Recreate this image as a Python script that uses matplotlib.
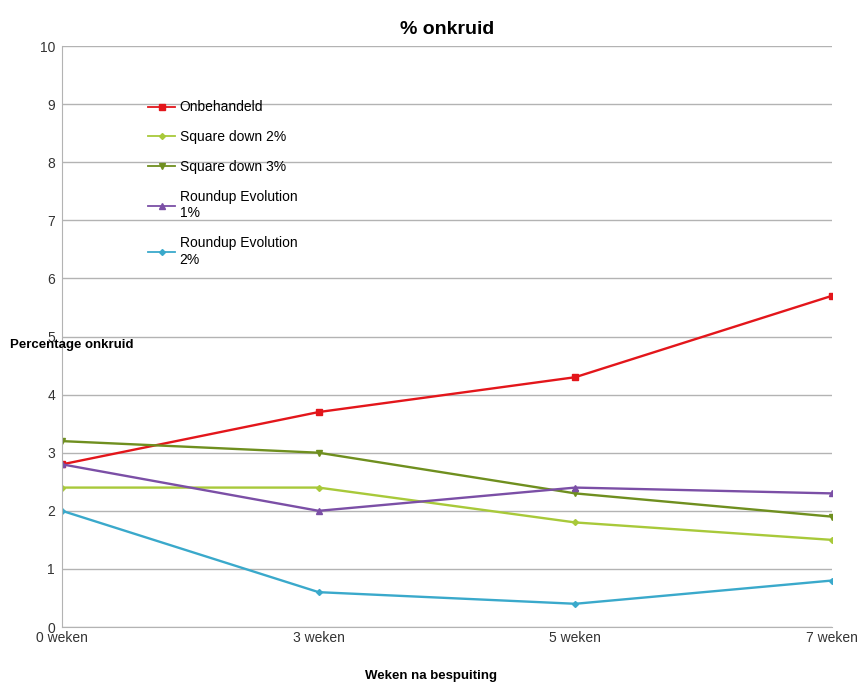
import matplotlib
matplotlib.use("Agg")
import matplotlib.pyplot as plt

plt.rcParams['font.family'] = ['Liberation Sans', 'DejaVu Sans']

categories = ["0 weken", "3 weken", "5 weken", "7 weken"]
series_names = ["Onbehandeld", "Square down 2%", "Square down 3%",
                "Roundup Evolution\n1%", "Roundup Evolution\n2%"]
onbehandeld = [2.8, 3.7, 4.3, 5.7]
square_down_2 = [2.4, 2.4, 1.8, 1.5]
square_down_3 = [3.2, 3.0, 2.3, 1.9]
roundup_1 = [2.8, 2.0, 2.4, 2.3]
roundup_2 = [2.0, 0.6, 0.4, 0.8]
y_ticks = list(range(0, 11))

colors = ["#e3161b", "#a8c93a", "#6f8f1f", "#7b4fa6", "#3aa9cb"]
markers = ["s", "D", "v", "^", "D"]
msizes = [5, 3, 4, 4, 3]
data = [onbehandeld, square_down_2, square_down_3, roundup_1, roundup_2]

fig = plt.figure(figsize=(8.62, 6.84), dpi=100)
ax = fig.add_axes([0.072, 0.0833, 0.893, 0.8494])

x = list(range(len(categories)))
for name, vals, c, m, ms in zip(series_names, data, colors, markers, msizes):
    ax.plot(x, vals, color=c, marker=m, markersize=ms, linewidth=1.7, label=name)

ax.set_xlim(0, len(categories) - 1)
ax.set_ylim(0, 10)
ax.set_yticks(y_ticks)
ax.set_xticks(x)
ax.set_xticklabels(categories)
ax.grid(axis='y', color='#b3b3b3', linewidth=1)
ax.set_axisbelow(True)
for s in ['top', 'right']:
    ax.spines[s].set_visible(False)
ax.spines['left'].set_color('#b3b3b3')
ax.spines['bottom'].set_color('#b3b3b3')
ax.tick_params(axis='both', length=0, labelsize=10, colors='#333333', pad=3)
ax.tick_params(axis='y', pad=5)

ax.set_title("% onkruid", fontsize=14, fontweight='bold', pad=9)
fig.text(0.5, 0.012, "Weken na bespuiting", ha='center', va='center',
         fontsize=9.5, fontweight='bold')
fig.text(0.012, 0.495, "Percentage onkruid", ha='left', va='center',
         fontsize=9.5, fontweight='bold')

leg = ax.legend(loc='upper left', bbox_to_anchor=(0.095, 0.928), frameon=False,
                fontsize=10, handlelength=2.0, labelspacing=1.15, handletextpad=0.3)
for h in leg.get_lines():
    h.set_linewidth(1.3)

fig.savefig("out.png", dpi=100)
